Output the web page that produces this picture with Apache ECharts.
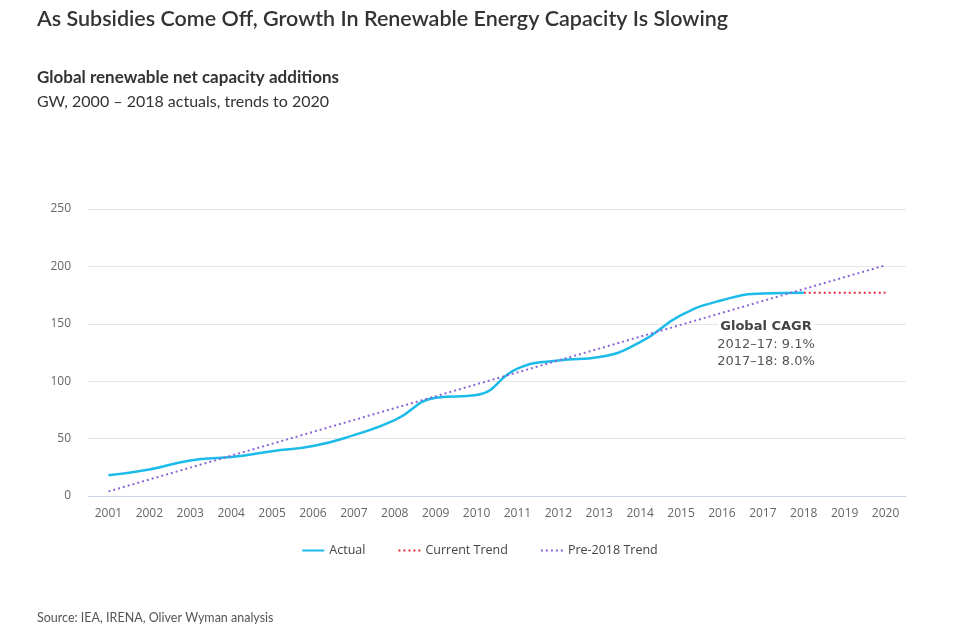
<!DOCTYPE html>
<html>
<head>
	<meta charset="utf-8">
	<title>Renewable capacity</title>
	<script type="text/javascript" src="https://cdn.jsdelivr.net/npm/echarts@6/dist/echarts.min.js"></script>
	<style>
		html, body { margin: 0; padding: 0; background: #fff; }
	</style>
</head>
<body>
<div id="main" style="width: 959px; height: 640px"></div>

<script type="text/javascript">
var myChart = echarts.init(document.getElementById('main'));

// categories and values (GW)
var years = ['2001', '2002', '2003', '2004', '2005', '2006', '2007', '2008', '2009', '2010',
             '2011', '2012', '2013', '2014', '2015', '2016', '2017', '2018', '2019', '2020'];
var actual = [18, 23, 31, 34, 39, 43.5, 53, 66, 85.5, 88, 111, 118, 121, 134, 157.5, 170.5, 176.5, 177];
var currentTrend = [['2018', 177], ['2019', 177], ['2020', 177]];
var preTrend = [['2001', 4], ['2020', 201]];
var cagrTitle = 'Global CAGR';
var cagrLines = ['2012–17: 9.1%', '2017–18: 8.0%'];

var axisFont = '"Open Sans", sans-serif';
var noteFont = '"DejaVu Sans", sans-serif';

option = {
    backgroundColor: '#fff',
    textStyle: { fontFamily: axisFont },
    title: [
        {
            text: 'As Subsidies Come Off, Growth In Renewable Energy Capacity Is Slowing',
            left: 32,
            top: 3,
            textStyle: { fontFamily: 'Lato, sans-serif', fontSize: 21.5, fontWeight: 600, color: '#333' }
        },
        {
            text: 'Global renewable net capacity additions',
            subtext: 'GW, 2000 – 2018 actuals, trends to 2020',
            left: 32,
            top: 64,
            itemGap: 8,
            textStyle: { fontFamily: 'Lato, sans-serif', fontSize: 17, fontWeight: 'bold', color: '#333' },
            subtextStyle: { fontFamily: 'Lato, sans-serif', fontSize: 16, color: '#333' }
        },
        {
            text: 'Source: IEA, IRENA, Oliver Wyman analysis',
            left: 32,
            top: 606,
            textStyle: { fontFamily: 'Lato, sans-serif', fontSize: 12.5, fontWeight: 'normal', color: '#555' }
        }
    ],
    grid: {
        left: 88,
        right: 53,
        top: 209,
        bottom: 144
    },
    legend: {
        bottom: 78,
        left: 'center',
        itemWidth: 22,
        itemGap: 32,
        itemStyle: { opacity: 0 },
        textStyle: { fontFamily: axisFont, fontSize: 12.5, color: '#444' },
        data: ['Actual', 'Current Trend', 'Pre-2018 Trend']
    },
    xAxis: {
        type: 'category',
        data: years,
        boundaryGap: true,
        axisLine: { lineStyle: { color: '#ccd6eb' } },
        axisTick: { show: false },
        axisLabel: { color: '#666', fontSize: 12, margin: 12 }
    },
    yAxis: {
        type: 'value',
        min: 0,
        max: 250,
        interval: 50,
        axisLine: { show: false },
        axisTick: { show: false },
        axisLabel: { color: '#666', fontSize: 12, margin: 17 },
        splitLine: { lineStyle: { color: '#e6e6e6' } }
    },
    graphic: [
        {
            type: 'text',
            x: 766,
            y: 327,
            z: 100,
            style: {
                text: cagrTitle,
                align: 'center',
                verticalAlign: 'middle',
                fill: '#444',
                backgroundColor: '#fff',
                padding: [2, 2],
                font: 'bold 13px ' + noteFont
            }
        },
        {
            type: 'text',
            x: 766,
            y: 345,
            z: 100,
            style: {
                text: cagrLines[0],
                align: 'center',
                verticalAlign: 'middle',
                fill: '#555',
                font: '13px ' + noteFont
            }
        },
        {
            type: 'text',
            x: 766,
            y: 362,
            z: 100,
            style: {
                text: cagrLines[1],
                align: 'center',
                verticalAlign: 'middle',
                fill: '#555',
                font: '13px ' + noteFont
            }
        }
    ],
    series: [
        {
            name: 'Actual',
            type: 'line',
            smooth: true,
            symbol: 'none',
            data: actual,
            z: 3,
            itemStyle: { color: '#1cbbe9' },
            lineStyle: { color: '#1cbbe9', width: 2.5 }
        },
        {
            name: 'Current Trend',
            type: 'line',
            symbol: 'none',
            data: currentTrend,
            z: 2,
            itemStyle: { color: '#e8283c' },
            lineStyle: { color: '#e8283c', width: 2, type: [2, 3] }
        },
        {
            name: 'Pre-2018 Trend',
            type: 'line',
            symbol: 'none',
            data: preTrend,
            z: 4,
            itemStyle: { color: '#8b67d6' },
            lineStyle: { color: '#8b67d6', width: 2, type: [2, 3] }
        }
    ]
};

myChart.setOption(option);
</script>
</body>
</html>
